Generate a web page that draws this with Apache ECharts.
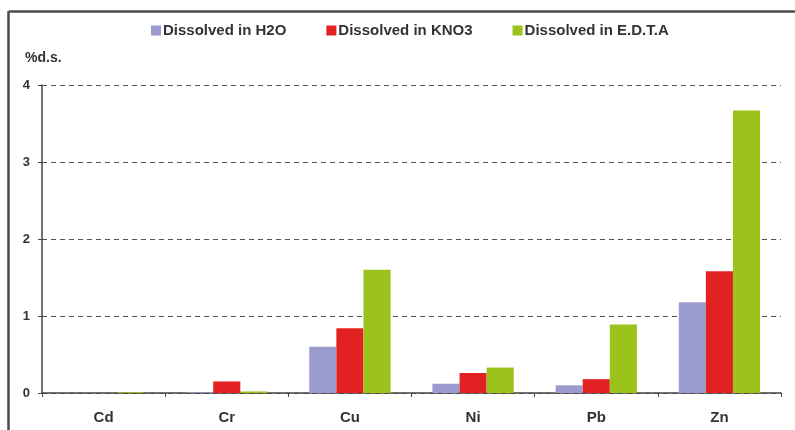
<!DOCTYPE html>
<html>
<head>
<meta charset="utf-8">
<script src="https://cdn.jsdelivr.net/npm/echarts@6/dist/echarts.min.js"></script>
<style>
  html, body { margin: 0; padding: 0; background: #fff; }
  #chart { width: 795px; height: 430px; }
</style>
</head>
<body>
<div id="chart"></div>
<script>
// Metal fractions dissolved by each extractant, % of dry substance
const metals = ['Cd', 'Cr', 'Cu', 'Ni', 'Pb', 'Zn'];
const seriesNames = ['Dissolved in H2O', 'Dissolved in KNO3', 'Dissolved in E.D.T.A'];
const h2o  = [0.0, 0.01, 0.60, 0.12, 0.10, 1.18];
const kno3 = [0.0, 0.15, 0.84, 0.26, 0.18, 1.58];
const edta = [0.01, 0.02, 1.60, 0.33, 0.89, 3.67];
const yTicks = [0, 1, 2, 3, 4];
const colors = ['#9c9bd0', '#e22222', '#9cc31c'];

const font = 'Liberation Sans, Arial, sans-serif';
const chart = echarts.init(document.getElementById('chart'));

const values = [h2o, kno3, edta];
chart.setOption({
  animation: false,
  color: colors,
  textStyle: { fontFamily: font },
  graphic: [
    // frame around the chart area (left and top edges visible)
    { type: 'line', shape: { x1: 9, y1: 11.5, x2: 795, y2: 11.5 }, style: { stroke: '#4a4a4a', lineWidth: 2.5 } },
    { type: 'line', shape: { x1: 8.5, y1: 11, x2: 8.5, y2: 430 }, style: { stroke: '#4a4a4a', lineWidth: 2.5 } }
  ],
  legend: {
    top: 18,
    left: 146,
    itemWidth: 10,
    itemHeight: 10,
    itemGap: 40,
    icon: 'rect',
    textStyle: { fontSize: 15, fontWeight: 'bold', color: '#333', fontFamily: font, padding: [0, 0, 0, -3] },
    data: seriesNames
  },
  grid: { left: 42, right: 14, top: 85, bottom: 37, containLabel: false },
  xAxis: {
    type: 'category',
    data: metals,
    axisLine: { lineStyle: { color: '#444', width: 1.5 } },
    axisTick: { show: true, length: 4, lineStyle: { color: '#444' } },
    axisLabel: { fontSize: 15, fontWeight: 'bold', color: '#333', margin: 17 }
  },
  yAxis: {
    type: 'value',
    min: 0,
    max: 4,
    interval: 1,
    name: '%d.s.',
    nameLocation: 'end',
    nameGap: 20,
    nameTextStyle: { fontSize: 14, fontWeight: 'bold', color: '#333', align: 'left', padding: [0, 0, 0, -17] },
    axisLine: { show: true, lineStyle: { color: '#444', width: 1.5 } },
    axisTick: { show: true, length: 4, lineStyle: { color: '#444' } },
    axisLabel: {
      fontSize: 13, fontWeight: 'bold', color: '#333', margin: 12,
      formatter: v => (yTicks.includes(v) ? String(v) : '')
    },
    splitLine: { show: true, lineStyle: { color: '#555', type: [5, 4], width: 1.2 } }
  },
  series: seriesNames.map((name, i) => ({
    name,
    type: 'bar',
    data: values[i],
    barGap: '0%',
    barCategoryGap: '34%'
  }))
});
</script>
</body>
</html>
